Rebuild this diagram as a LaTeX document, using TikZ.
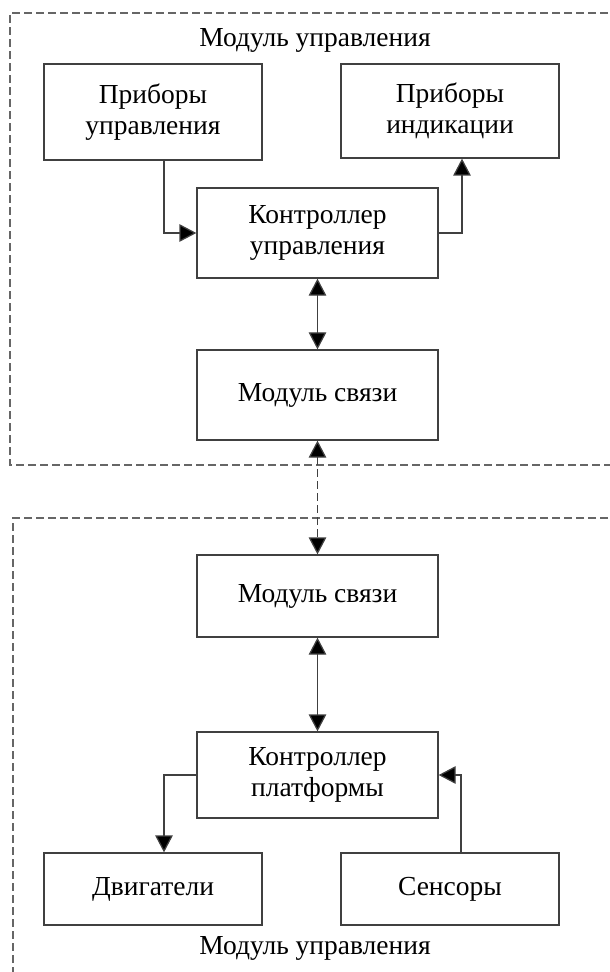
\documentclass[tikz,border=0pt]{standalone}
\usepackage{fontspec}
\setmainfont{Liberation Serif}
\usetikzlibrary{arrows.meta}

\tikzset{
  blok/.style={draw=black!75, line width=0.5pt, align=center, inner sep=0pt,
    minimum width=96.4pt, minimum height=36pt, font=\fontsize{11}{12.5}\selectfont},
  blokmal/.style={blok, minimum width=87.2pt},
  ramka/.style={draw=black!60, line width=0.5pt, dash pattern=on 3.2pt off 1.6pt},
  strelka/.style={draw=black!75, line width=0.5pt, -{Triangle[length=6.8pt,width=7pt,fill=black]}},
  dvustr/.style={draw=black!75, line width=0.5pt,
    {Triangle[length=6.8pt,width=7pt,fill=black]}-{Triangle[length=6.8pt,width=7pt,fill=black]}},
  nadpis/.style={font=\fontsize{11}{12.5}\selectfont, inner sep=0pt}
}

\begin{document}
\begin{tikzpicture}[x=0.4pt, y=-0.4pt]
    \useasboundingbox (0,0) rectangle (609,972);

    % верхний модуль
    \draw[ramka] (620,13) -| (10,465) -- (620,465);
    \node[nadpis] (zagverh) at (315,40) {Модуль управления};

    \node[blokmal, minimum height=38.4pt] (pribupr) at (153,112) {Приборы\\управления};
    \node[blokmal, minimum height=37.6pt] (pribind) at (450,111) {Приборы\\индикации};
    \node[blok] (kontrupr) at (317.5,233) {Контроллер\\управления};
    \node[blok] (svyaz1) at (317.5,395) {Модуль связи};

    \draw[strelka] ([xshift=4.4pt]pribupr.south) |- (kontrupr.west);
    \draw[strelka] (kontrupr.east) -| ([xshift=4.8pt]pribind.south);
    \draw[dvustr] (kontrupr.south) -- (svyaz1.north);

    % нижний модуль
    \draw[ramka] (620,518) -| (13,980);
    \node[nadpis] (zagniz) at (315,948) {Модуль управления};

    \node[blok, minimum height=32.8pt] (svyaz2) at (317.5,596) {Модуль связи};
    \node[blok, minimum height=34.4pt] (kontrplat) at (317.5,775) {Контроллер\\платформы};
    \node[blokmal, minimum height=28.8pt] (dvig) at (153,889) {Двигатели};
    \node[blokmal, minimum height=28.8pt] (sens) at (450,889) {Сенсоры};

    \draw[dvustr] (svyaz2.south) -- (kontrplat.north);
    \draw[strelka] (kontrplat.west) -| ([xshift=4.4pt]dvig.north);
    \draw[strelka] ([xshift=4.4pt]sens.north) |- (kontrplat.east);

    % связь между модулями
    \draw[dvustr, dash pattern=on 3.2pt off 1.6pt] (svyaz1.south) -- (svyaz2.north);
\end{tikzpicture}
\end{document}
